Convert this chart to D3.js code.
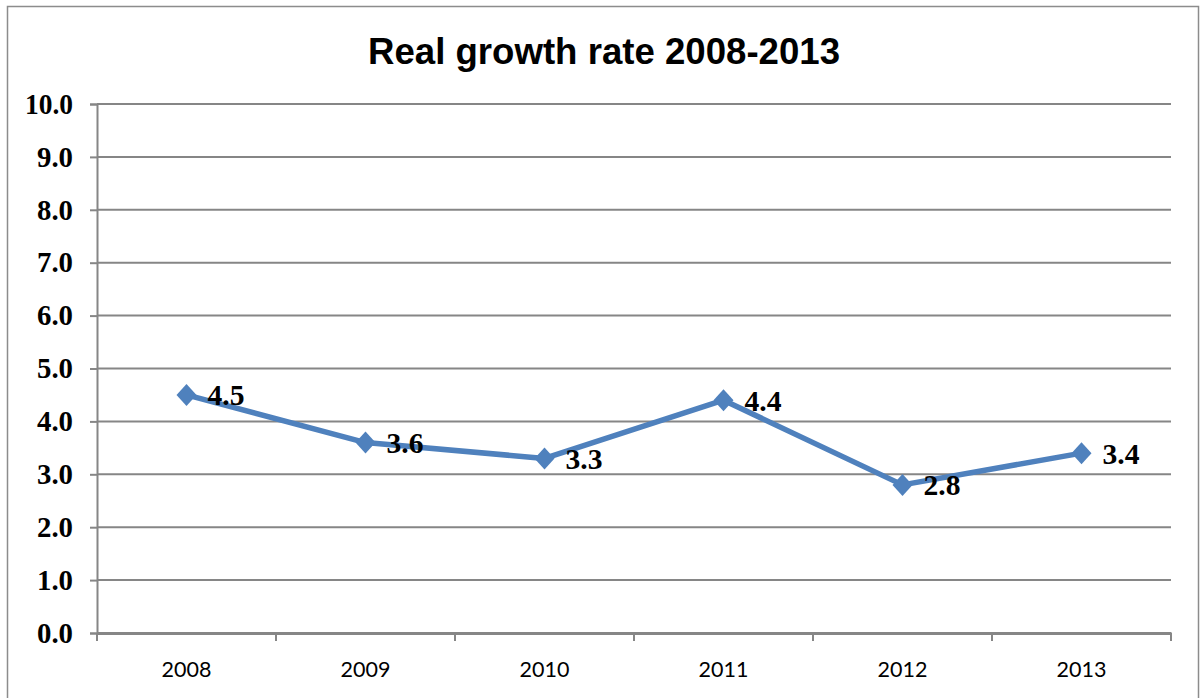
<!DOCTYPE html>
<html lang="en">
<head>
    <meta charset="UTF-8">
    <title>Real growth rate 2008-2013</title>
    <script src="https://d3js.org/d3.v7.min.js"></script>
    <style>
        body { margin: 0; background: #fff; }
        svg { display: block; }
    </style>
</head>
<body>
    <div id="chart"></div>
    <script>
        const years = ["2008", "2009", "2010", "2011", "2012", "2013"];
        const growth = [4.5, 3.6, 3.3, 4.4, 2.8, 3.4];
        const yTicks = [0, 1, 2, 3, 4, 5, 6, 7, 8, 9, 10];

        const width = 1201, height = 698;
        const margin = { top: 104, right: 30, bottom: 65, left: 97 };

        const svg = d3.select("#chart").append("svg")
            .attr("width", width)
            .attr("height", height);

        // outer frame
        svg.append("rect")
            .attr("x", 7.5).attr("y", 6.5)
            .attr("width", 1191).attr("height", 700)
            .attr("fill", "none")
            .attr("stroke", "#8c8c8c")
            .attr("stroke-width", 1.5);

        svg.append("text")
            .attr("x", 604).attr("y", 64)
            .attr("text-anchor", "middle")
            .attr("font-family", "Liberation Sans, Arial, sans-serif")
            .attr("font-weight", "bold")
            .attr("font-size", 37)
            .attr("textLength", 472)
            .attr("lengthAdjust", "spacingAndGlyphs")
            .text("Real growth rate 2008-2013");

        const x = d3.scaleBand()
            .domain(years)
            .range([margin.left, width - margin.right]);

        const y = d3.scaleLinear()
            .domain([0, 10])
            .range([height - margin.bottom, margin.top]);

        // gridlines
        svg.append("g")
            .selectAll("line")
            .data(yTicks.filter(d => d > 0))
            .join("line")
            .attr("x1", margin.left).attr("x2", width - margin.right)
            .attr("y1", d => y(d)).attr("y2", d => y(d))
            .attr("stroke", "#868686")
            .attr("stroke-width", 2);

        // y axis
        const yAxis = svg.append("g")
            .attr("transform", `translate(${margin.left},0)`)
            .call(d3.axisLeft(y).tickValues(yTicks).tickFormat(d3.format(".1f")).tickSize(7).tickPadding(17));
        yAxis.select(".domain").attr("stroke", "#868686").attr("stroke-width", 2);
        yAxis.selectAll(".tick line").attr("stroke", "#868686").attr("stroke-width", 2);
        yAxis.selectAll("text")
            .attr("font-family", "Liberation Serif, Times New Roman, serif")
            .attr("font-weight", "bold")
            .attr("font-size", 29)
            .attr("fill", "#000")
            .attr("textLength", d => d >= 10 ? 48 : 36)
            .attr("lengthAdjust", "spacingAndGlyphs");

        // x axis, ticks between categories
        const xAxis = svg.append("g")
            .attr("transform", `translate(0,${y(0)})`)
            .call(d3.axisBottom(x).tickSize(0).tickPadding(29));
        xAxis.select(".domain").attr("stroke", "#868686").attr("stroke-width", 3);
        xAxis.selectAll("text")
            .attr("font-family", "Lato, Open Sans, sans-serif")
            .attr("font-size", 21.5)
            .attr("fill", "#000");
        const bounds = years.map(d => x(d)).concat([x.range()[1]]);
        xAxis.selectAll(".sep")
            .data(bounds)
            .join("line")
            .attr("class", "sep")
            .attr("x1", d => d).attr("x2", d => d)
            .attr("y1", 0).attr("y2", 8)
            .attr("stroke", "#868686")
            .attr("stroke-width", 2);

        const cx = d => x(d) + x.bandwidth() / 2;
        const series = years.map((d, i) => ({ year: d, value: growth[i] }));

        svg.append("path")
            .datum(series)
            .attr("fill", "none")
            .attr("stroke", "#4F81BD")
            .attr("stroke-width", 5.5)
            .attr("stroke-linejoin", "round")
            .attr("d", d3.line().x(d => cx(d.year)).y(d => y(d.value)));

        svg.append("g")
            .selectAll("path")
            .data(series)
            .join("path")
            .attr("transform", d => `translate(${cx(d.year)},${y(d.value)})`)
            .attr("d", "M0,-11L10,0L0,11L-10,0Z")
            .attr("fill", "#4F81BD");

        svg.append("g")
            .selectAll("text")
            .data(series)
            .join("text")
            .attr("x", d => cx(d.year) + 21)
            .attr("y", d => y(d.value))
            .attr("dy", "0.36em")
            .attr("font-family", "Liberation Serif, Times New Roman, serif")
            .attr("font-weight", "bold")
            .attr("font-size", 29)
            .attr("textLength", 37)
            .attr("lengthAdjust", "spacingAndGlyphs")
            .text(d => d3.format(".1f")(d.value));
    </script>
</body>
</html>
